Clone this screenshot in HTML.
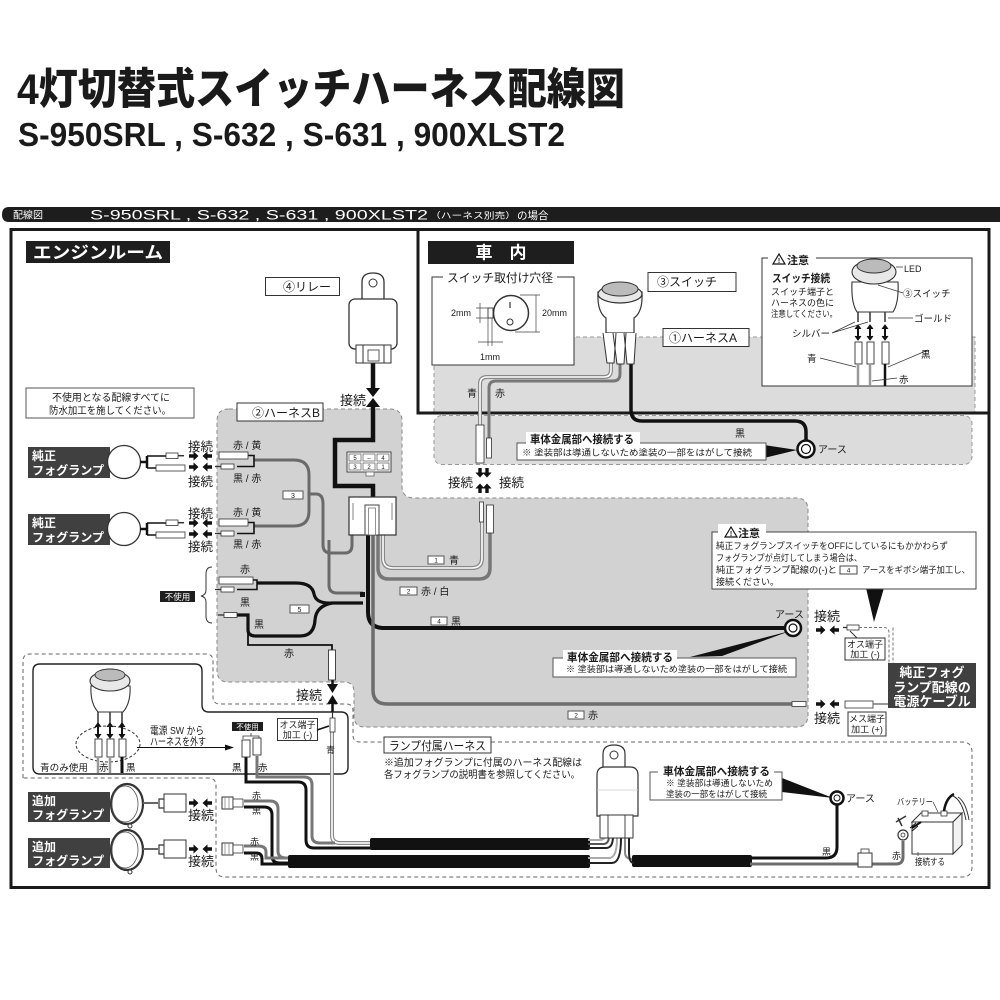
<!DOCTYPE html>
<html><head><meta charset="utf-8"><style>
html,body{margin:0;padding:0;background:#fff;}
svg{display:block;}
text{font-family:"Liberation Sans","Noto Sans CJK JP",sans-serif;fill:#1a1a1a;}
.w{fill:#fff;}
.b{font-weight:bold;}
</style></head><body>
<svg width="1000" height="1000" viewBox="0 0 1000 1000" xmlns="http://www.w3.org/2000/svg">
<defs>
<path id="ar" d="M0,-1.7 H4.5 V-4.6 L9.5,0 L4.5,4.6 V1.7 H0 Z" fill="#111"/>
</defs>
<rect width="1000" height="1000" fill="#fff"/>

<!-- Titles -->
<text x="17" y="104" font-size="43" font-weight="900" textLength="608" lengthAdjust="spacingAndGlyphs">4灯切替式スイッチハーネス配線図</text>
<text x="18" y="146" font-size="33" class="b" textLength="547" lengthAdjust="spacingAndGlyphs">S-950SRL , S-632 , S-631 , 900XLST2</text>

<!-- header bar -->
<path d="M9,207 H1000 V222 H9 Q2,222 2,214.5 Q2,207 9,207 Z" fill="#1d1d1d"/>
<text x="13" y="218.5" font-size="10" class="w">配線図</text>
<text x="90" y="219.5" font-size="13.5" class="w" textLength="338" lengthAdjust="spacingAndGlyphs">S-950SRL , S-632 , S-631 , 900XLST2</text>
<text x="430" y="218.5" font-size="8.5" class="w" textLength="86" lengthAdjust="spacingAndGlyphs">（ハーネス別売）</text>
<text x="517" y="219" font-size="10.5" class="w">の場合</text>

<!-- main frame -->
<rect x="11" y="229.5" width="978" height="658" fill="none" stroke="#1a1a1a" stroke-width="3"/>

<!-- 車内 gray regions -->
<rect x="434" y="337" width="541" height="75" fill="#dcdcdc"/>
<path d="M434,412 V337 H663 M746,337 H762 M972,337 H975 V412" fill="none" stroke="#999" stroke-width="1" stroke-dasharray="4,3"/>
<rect x="434" y="415.5" width="538" height="49" rx="8" fill="#dcdcdc" stroke="#999" stroke-width="1" stroke-dasharray="4,3"/>

<!-- harness B gray region -->
<path d="M229,409 H390 Q402,409 402,421 V486 Q402,498 414,498 H796 Q808,498 808,510 V715 Q808,727 796,727 H365 Q354,727 354,716 V692 Q354,682 344,682 H228 Q217,682 217,670 V421 Q217,409 229,409 Z" fill="#d2d2d2" stroke="#888" stroke-width="1" stroke-dasharray="4,3"/>

<!-- 車内 frame lines -->
<path d="M418,229 V413 H989" fill="none" stroke="#1a1a1a" stroke-width="3"/>

<!-- inset / lamp harness dashed outline -->
<path d="M23,778 V661 Q23,654 30,654 H206 Q213,654 213,661 V697 Q213,704 220,704 H346 Q353,704 353,711 V735 Q353,742 360,742 H384 M491,742 H962 Q972,742 972,752 V867 Q972,877 962,877 H225 Q216,877 216,868 V786 Q216,778 208,778 H23" fill="none" stroke="#666" stroke-width="1" stroke-dasharray="4,3"/>
<!-- inset solid -->
<path d="M40,664 H195 Q202,664 202,671 V705 Q202,712 209,712 H341 Q348,712 348,719 V767 Q348,774 341,774 H40 Q33,774 33,767 V671 Q33,664 40,664 Z" fill="#fff" stroke="#222" stroke-width="1.4"/>

<!-- ================= WIRES ================= -->
<path d="M373,363 V389" stroke="#111" stroke-width="4.5" fill="none"/>
<path d="M366,388 H380 L373,397 Z M366,407 H380 L373,398 Z" fill="#111"/>
<path d="M373,406 V440 H335 V486 H373 V497" stroke="#111" stroke-width="4.5" fill="none"/>

<path d="M254,460 H294 Q309,460 309,475 V511 Q309,526 294,526 H254" stroke="#6a6a6a" stroke-width="3" fill="none"/>
<path d="M309,494 H316 Q323,494 323,504 V545 Q323,553 331,553 H345 Q352,553 352,545 V534" stroke="#6a6a6a" stroke-width="3" fill="none"/>
<path d="M329,540 V585 Q329,593 337,593 H363" stroke="#6a6a6a" stroke-width="3" fill="none"/>
<path d="M248,455.5 H254 V466.5 H237 M248,522.5 H254 V533.5 H237 M253,580 H257 V589.5 H237" stroke="#111" stroke-width="1.6" fill="none"/>
<path d="M257,583 H296 Q312,583 314,594 Q316,604 332,603 H363" stroke="#111" stroke-width="3.2" fill="none"/>
<path d="M237,615 H248 V630 Q248,636 256,636 H300 Q314,636 315,620 Q316,606 332,603" stroke="#111" stroke-width="3.2" fill="none"/>
<path d="M248,630 V645 H332 V652" stroke="#111" stroke-width="1.8" fill="none"/>
<rect x="360" y="592" width="5" height="5" fill="#111"/>

<path d="M368,535 V612 Q368,628 384,628 H784" stroke="#111" stroke-width="4" fill="none"/>
<path d="M373,535 V690 Q373,704 387,704 H792" stroke="#6d6d6d" stroke-width="3.5" fill="none"/>
<path d="M378,535 V568 Q378,579 389,579 H479 Q490,579 490,568 V533" stroke="#777" stroke-width="3.5" fill="none"/>
<path d="M383,535 V558 Q383,568 393,568 H472 Q482,568 482,558 V522" stroke="#888" stroke-width="4" fill="none"/>
<path d="M383,535 V558 Q383,568 393,568 H472 Q482,568 482,558 V522" stroke="#fff" stroke-width="1.6" fill="none"/>

<path d="M611,363 V370 Q611,377 604,377 H487 Q480,377 480,384 V425" stroke="#888" stroke-width="4" fill="none"/>
<path d="M611,363 V370 Q611,377 604,377 H487 Q480,377 480,384 V425" stroke="#fff" stroke-width="1.6" fill="none"/>
<path d="M620,364 V374 Q620,381 613,381 H496 Q489,381 489,388 V438" stroke="#777" stroke-width="3" fill="none"/>
<path d="M631,364 V410 Q631,421 642,421 H795 Q806,421 806,432 V441" stroke="#111" stroke-width="3.5" fill="none"/>

<path d="M332,732 V835 Q332,843 340,843 H372" stroke="#888" stroke-width="4" fill="none"/>
<path d="M332,732 V835 Q332,843 340,843 H372" stroke="#fff" stroke-width="1.6" fill="none"/>
<path d="M246,756 V782 H298 Q306,782 306,790 V840 Q306,848 314,848 H372" stroke="#111" stroke-width="3" fill="none"/>
<path d="M257,756 V777 H304 Q312,777 312,785 V836 Q312,843 320,843 H335" stroke="#777" stroke-width="3" fill="none"/>
<path d="M244,801 H270 Q278,801 278,809 V851 Q278,858 286,858 H292" stroke="#777" stroke-width="3" fill="none"/>
<path d="M244,807 H264 Q272,807 272,815 V856 Q272,863 280,863 H292" stroke="#111" stroke-width="3" fill="none"/>
<path d="M244,846 H258 Q266,846 266,852 V858 H292" stroke="#777" stroke-width="3" fill="none"/>
<path d="M244,853 H256 Q262,853 262,859 V864 H292" stroke="#111" stroke-width="3" fill="none"/>
<rect x="370" y="838" width="220" height="12" rx="2" fill="#111"/>
<rect x="288" y="855" width="302" height="13" rx="2" fill="#111"/>
<rect x="632" y="855" width="120" height="12" rx="2" fill="#111"/>
<path d="M588,840 H600 Q605,840 605,834" stroke="#aaa" stroke-width="2" fill="none"/>
<path d="M588,844 H603 Q609,844 609,836" stroke="#555" stroke-width="2" fill="none"/>
<path d="M588,848 H606 Q613,848 613,836" stroke="#222" stroke-width="2" fill="none"/>
<path d="M588,858 H609 Q617,858 617,838" stroke="#aaa" stroke-width="2" fill="none"/>
<path d="M588,863 H612 Q621,863 621,838" stroke="#222" stroke-width="2" fill="none"/>
<path d="M625,838 V852 Q625,859 632,859" stroke="#888" stroke-width="2" fill="none"/>
<path d="M629,838 V852 Q629,863 634,863" stroke="#222" stroke-width="2" fill="none"/>
<path d="M750,858 H826 Q837,858 837,847 V805" stroke="#111" stroke-width="3" fill="none"/>
<path d="M750,864 H858 M872,864 H896 Q903,864 903,857 V841" stroke="#6d6d6d" stroke-width="3" fill="none"/>

<!-- ================= ENGINE ROOM COMPONENTS ================= -->
<rect x="26" y="241" width="144" height="22" fill="#1e1e1e"/>
<text x="33" y="258.5" font-size="17" class="w b" textLength="130" lengthAdjust="spacingAndGlyphs">エンジンルーム</text>

<rect x="265.5" y="277.5" width="74" height="18" fill="#fff" stroke="#333"/>
<text x="283" y="291" font-size="12">④リレー</text>

<path d="M362,302 V282 Q362,273 373,273 Q384,273 384,282 V302 Z" fill="#fff" stroke="#333" stroke-width="1.3"/>
<circle cx="373" cy="283" r="4" fill="#fff" stroke="#333"/>
<rect x="349" y="299" width="48" height="50" rx="6" fill="#fff" stroke="#333" stroke-width="1.3"/>
<rect x="356" y="345" width="35" height="18" fill="#fff" stroke="#333"/>
<path d="M363,345 V363 M384,345 V363" stroke="#333"/>
<rect x="368" y="350" width="11" height="11" fill="#fff" stroke="#333" stroke-width="0.8"/>
<text x="340" y="405" font-size="13">接続</text>

<rect x="26" y="388" width="168" height="30" fill="#fff" stroke="#555"/>
<text x="52" y="401" font-size="10" textLength="118" lengthAdjust="spacingAndGlyphs">不使用となる配線すべてに</text>
<text x="49" y="414" font-size="10" textLength="122" lengthAdjust="spacingAndGlyphs">防水加工を施してください。</text>

<rect x="237" y="403" width="86" height="18" fill="#fff" stroke="#333"/>
<text x="252" y="417" font-size="12">②ハーネスB</text>

<rect x="347" y="452" width="44" height="20" fill="#fff" stroke="#444"/>
<g fill="#fff" stroke="#555" stroke-width="0.7">
<rect x="349" y="454" width="12" height="7"/><rect x="363" y="454" width="12" height="7"/><rect x="377" y="454" width="12" height="7"/>
<rect x="349" y="463" width="12" height="7"/><rect x="363" y="463" width="12" height="7"/><rect x="377" y="463" width="12" height="7"/>
</g>
<rect x="366" y="472" width="8" height="4" fill="#fff" stroke="#555" stroke-width="0.7"/>
<g font-size="6" text-anchor="middle"><text x="355" y="460">5</text><text x="369" y="460">–</text><text x="383" y="460">4</text><text x="355" y="469">3</text><text x="369" y="469">2</text><text x="383" y="469">1</text></g>

<rect x="349" y="497" width="47" height="38" fill="#fff" stroke="#333" stroke-width="1.2"/>
<rect x="365" y="505" width="14" height="30" fill="#fff" stroke="#444"/>
<rect x="368.5" y="508" width="7" height="27" fill="#fff" stroke="#666" stroke-width="0.7"/>
<path d="M353,503 V520 M392,503 V520" stroke="#666" stroke-width="0.8"/>

<!-- 純正 lamp 1 -->
<rect x="28" y="447" width="82" height="31" fill="#404040"/>
<text x="32" y="460" font-size="12" class="w b">純正</text>
<text x="32" y="474.5" font-size="12" class="w b" textLength="72" lengthAdjust="spacingAndGlyphs">フォグランプ</text>
<circle cx="124" cy="462" r="16.5" fill="#fff" stroke="#333" stroke-width="1.3"/>
<path d="M140,462 H147 M147,456 V468" stroke="#111" stroke-width="2.5"/>
<path d="M147,456 H166 M147,468 H156" stroke="#111" stroke-width="1.5"/>
<rect x="166" y="453" width="12" height="5.5" fill="#fff" stroke="#333" stroke-width="0.8"/>
<path d="M178,455.7 H184" stroke="#333" stroke-width="1.5"/>
<rect x="156" y="465" width="29" height="6" fill="#fff" stroke="#333" stroke-width="0.8"/>
<use href="#ar" transform="translate(189,456)"/><use href="#ar" transform="translate(212,456) scale(-1,1)"/>
<use href="#ar" transform="translate(189,467)"/><use href="#ar" transform="translate(212,467) scale(-1,1)"/>
<text x="188" y="451" font-size="12.5">接続</text>
<text x="188" y="486" font-size="12.5">接続</text>
<rect x="219" y="452" width="29" height="7" fill="#fff" stroke="#333" stroke-width="0.8"/>
<rect x="221" y="464" width="13" height="5" fill="#fff" stroke="#333" stroke-width="0.8"/>
<path d="M215,466.5 H221" stroke="#333" stroke-width="1.3"/>
<text x="233" y="449" font-size="10">赤 / 黄</text>
<text x="233" y="482" font-size="10">黒 / 赤</text>

<!-- 純正 lamp 2 -->
<rect x="28" y="514" width="82" height="31" fill="#404040"/>
<text x="32" y="527" font-size="12" class="w b">純正</text>
<text x="32" y="541.5" font-size="12" class="w b" textLength="72" lengthAdjust="spacingAndGlyphs">フォグランプ</text>
<circle cx="124" cy="529" r="16.5" fill="#fff" stroke="#333" stroke-width="1.3"/>
<path d="M140,529 H147 M147,523 V535" stroke="#111" stroke-width="2.5"/>
<path d="M147,523 H166 M147,535 H156" stroke="#111" stroke-width="1.5"/>
<rect x="166" y="520" width="12" height="5.5" fill="#fff" stroke="#333" stroke-width="0.8"/>
<path d="M178,522.7 H184" stroke="#333" stroke-width="1.5"/>
<rect x="156" y="532" width="29" height="6" fill="#fff" stroke="#333" stroke-width="0.8"/>
<use href="#ar" transform="translate(189,523)"/><use href="#ar" transform="translate(212,523) scale(-1,1)"/>
<use href="#ar" transform="translate(189,534)"/><use href="#ar" transform="translate(212,534) scale(-1,1)"/>
<text x="188" y="518" font-size="12.5">接続</text>
<text x="188" y="551" font-size="12.5">接続</text>
<rect x="219" y="519" width="29" height="7" fill="#fff" stroke="#333" stroke-width="0.8"/>
<rect x="221" y="531" width="13" height="5" fill="#fff" stroke="#333" stroke-width="0.8"/>
<path d="M215,533.5 H221" stroke="#333" stroke-width="1.3"/>
<text x="233" y="516" font-size="10">赤 / 黄</text>
<text x="233" y="548" font-size="10">黒 / 赤</text>

<rect x="283" y="491" width="20" height="8" fill="#fff" stroke="#555"/>
<text x="293" y="498" font-size="7" text-anchor="middle">3</text>

<!-- 不使用 group -->
<rect x="160" y="591" width="35" height="11" fill="#1e1e1e"/>
<text x="177.5" y="600" font-size="8.5" class="w" text-anchor="middle">不使用</text>
<path d="M212,567 Q206,567 206,574 V590 Q206,595 201,596 Q206,597 206,602 V616 Q206,623 212,623" fill="none" stroke="#333" stroke-width="1"/>
<text x="240" y="573" font-size="10">赤</text>
<rect x="219" y="577" width="34" height="7" fill="#fff" stroke="#333" stroke-width="0.8"/>
<rect x="221" y="587" width="13" height="5" fill="#fff" stroke="#333" stroke-width="0.8"/>
<path d="M215,589.5 H221" stroke="#333" stroke-width="1.3"/>
<text x="240" y="606" font-size="10">黒</text>
<rect x="224" y="612.5" width="13" height="5" fill="#fff" stroke="#333" stroke-width="0.8"/>
<path d="M218,615 H224" stroke="#333" stroke-width="1.3"/>
<text x="254" y="628" font-size="10">黒</text>
<text x="284" y="657" font-size="10">赤</text>
<rect x="290" y="605" width="19" height="8" fill="#fff" stroke="#555"/>
<text x="299.5" y="612" font-size="7" text-anchor="middle">5</text>
<rect x="328.5" y="650" width="7" height="30" fill="#fff" stroke="#333" stroke-width="0.9"/>

<!-- wire labels -->
<rect x="428" y="556" width="16" height="8" fill="#fff" stroke="#555"/><text x="436" y="562.5" font-size="6.5" text-anchor="middle">1</text>
<text x="449" y="564" font-size="10">青</text>
<rect x="400" y="587" width="17" height="8" fill="#fff" stroke="#555"/><text x="408.5" y="593.5" font-size="6.5" text-anchor="middle">2</text>
<text x="421" y="595" font-size="10">赤 / 白</text>
<rect x="431" y="617" width="16" height="8" fill="#fff" stroke="#555"/><text x="439" y="623.5" font-size="6.5" text-anchor="middle">4</text>
<text x="451" y="625" font-size="10">黒</text>
<rect x="568" y="711" width="16" height="8" fill="#fff" stroke="#555"/><text x="576" y="717.5" font-size="6.5" text-anchor="middle">2</text>
<text x="588" y="719" font-size="10">赤</text>

<rect x="479.5" y="502" width="4" height="20" fill="#fff" stroke="#333" stroke-width="0.8"/>
<rect x="486.5" y="505" width="7" height="28" fill="#fff" stroke="#333" stroke-width="0.8"/>

<!-- middle ground -->
<path d="M690,657 L722,656 L790,631 Z" fill="#111"/>
<rect x="553" y="658" width="243" height="19" fill="#fff" stroke="#555"/>
<rect x="563" y="650" width="114" height="12" fill="#fff"/>
<text x="567" y="661" font-size="11" class="b" textLength="106" lengthAdjust="spacingAndGlyphs">車体金属部へ接続する</text>
<text x="566" y="672" font-size="8.5" textLength="221" lengthAdjust="spacingAndGlyphs">※ 塗装部は導通しないため塗装の一部をはがして接続</text>
<circle cx="793" cy="628" r="8" fill="#fff" stroke="#111" stroke-width="2.5"/>
<circle cx="793" cy="628" r="4" fill="#fff" stroke="#111" stroke-width="1.2"/>
<text x="775" y="618" font-size="10">アース</text>
<rect x="792" y="701.5" width="14" height="5" fill="#fff" stroke="#333" stroke-width="0.8"/>

<!-- right side connections -->
<text x="814" y="621" font-size="13">接続</text>
<use href="#ar" transform="translate(816,630)"/><use href="#ar" transform="translate(839,630) scale(-1,1)"/>
<rect x="847" y="625" width="12" height="5" fill="#fff" stroke="#333" stroke-width="0.8"/>
<path d="M843,627.5 H847" stroke="#333" stroke-width="1.3"/>
<path d="M859,627.5 H884 Q889,627.5 889,633 V663" fill="none" stroke="#777" stroke-width="1" stroke-dasharray="3,2"/>
<path d="M893,627.5 V663" fill="none" stroke="#777" stroke-width="1" stroke-dasharray="3,2"/>
<path d="M850,631 L860,641" stroke="#333" stroke-width="1"/>
<rect x="845" y="638" width="40" height="22" fill="#fff" stroke="#333"/>
<text x="865" y="647.5" font-size="9" text-anchor="middle">オス端子</text>
<text x="865" y="657.5" font-size="9" text-anchor="middle">加工 (-)</text>
<rect x="888" y="663" width="88" height="45" fill="#404040"/>
<text x="932" y="677" font-size="13" class="w b" text-anchor="middle">純正フォグ</text>
<text x="932" y="692" font-size="13" class="w b" text-anchor="middle">ランプ配線の</text>
<text x="932" y="706" font-size="13" class="w b" text-anchor="middle">電源ケーブル</text>
<use href="#ar" transform="translate(816,704)"/><use href="#ar" transform="translate(839,704) scale(-1,1)"/>
<text x="814" y="723" font-size="13">接続</text>
<rect x="845" y="701" width="28" height="7" fill="#fff" stroke="#333" stroke-width="0.8"/>
<path d="M873,704 H888" stroke="#777" stroke-width="1.5"/>
<rect x="848" y="712" width="38" height="24" fill="#fff" stroke="#333"/>
<text x="867" y="722" font-size="9" text-anchor="middle">メス端子</text>
<text x="867" y="732.5" font-size="9" text-anchor="middle">加工 (+)</text>

<!-- 注意 middle -->
<path d="M866,588 L884,588 L874,622 Z" fill="#111"/>
<rect x="712" y="532" width="264" height="57" fill="#fff" stroke="#444"/>
<rect x="718" y="524" width="48" height="12" fill="#fff"/>
<path d="M725,537 L731,527 L737,537 Z" fill="none" stroke="#111" stroke-width="1.2"/>
<text x="731" y="536" font-size="7" text-anchor="middle" class="b">!</text>
<text x="738" y="537" font-size="11" class="b">注意</text>
<text x="716" y="549" font-size="9" textLength="232" lengthAdjust="spacingAndGlyphs">純正フォグランプスイッチをOFFにしているにもかかわらず</text>
<text x="716" y="561" font-size="9" textLength="146" lengthAdjust="spacingAndGlyphs">フォグランプが点灯してしまう場合は、</text>
<text x="716" y="573" font-size="9" textLength="121" lengthAdjust="spacingAndGlyphs">純正フォグランプ配線の(-)と</text>
<rect x="840" y="566" width="17" height="8" fill="#fff" stroke="#444"/><text x="848.5" y="572.5" font-size="6.5" text-anchor="middle">4</text>
<text x="862" y="573" font-size="9" textLength="108" lengthAdjust="spacingAndGlyphs">アースをギボシ端子加工し、</text>
<text x="716" y="585" font-size="9">接続ください。</text>

<!-- ================= CAR INTERIOR ================= -->
<rect x="428" y="241" width="146" height="23" fill="#1e1e1e"/>
<text x="501" y="258.5" font-size="17" class="w b" text-anchor="middle">車　内</text>

<rect x="432" y="277" width="142" height="88" fill="#fff" stroke="#333"/>
<rect x="443" y="270" width="114" height="12" fill="#fff"/>
<text x="447" y="282" font-size="12" textLength="106" lengthAdjust="spacingAndGlyphs">スイッチ取付け穴径</text>
<circle cx="511" cy="313" r="17.5" fill="#fff" stroke="#333" stroke-width="1.5"/>
<path d="M510,302 V308" stroke="#333" stroke-width="1.2"/>
<circle cx="510" cy="322" r="3" fill="#fff" stroke="#333"/>
<rect x="488" y="308" width="5" height="10" fill="#fff" stroke="#333" stroke-width="0.9"/>
<path d="M480,303 V323 M476,308 H488 M476,318 H488 M536,295 V332 M520,295 H540 M515,332 H540 M488,318 V346 M492,318 V346 M478,342 H503" stroke="#444" stroke-width="0.7" fill="none"/>
<text x="451" y="316" font-size="9">2mm</text>
<text x="542" y="316" font-size="9">20mm</text>
<text x="480" y="360" font-size="9">1mm</text>

<path d="M598,292 Q597,312 606,318 V333 H634 V318 Q643,312 642,292 Z" fill="#fff" stroke="#333" stroke-width="1.2"/>
<ellipse cx="620" cy="294" rx="22" ry="9" fill="#e8e8e8" stroke="#333" stroke-width="1.2"/>
<ellipse cx="620" cy="289" rx="18" ry="7" fill="#bbb" stroke="#333" stroke-width="1"/>
<path d="M603,333 L607,363 H614 L616,333 M613,333 L617,364 H624 L626,333 M624,333 L627,364 H634 L636,333" fill="#fff" stroke="#333" stroke-width="1"/>
<rect x="648" y="272.5" width="88" height="19" fill="#fff" stroke="#333"/>
<text x="657" y="286" font-size="12">③スイッチ</text>
<rect x="663" y="328.5" width="86" height="18" fill="#fff" stroke="#333"/>
<text x="669" y="342" font-size="12">①ハーネスA</text>
<text x="467" y="397" font-size="10">青</text>
<text x="495" y="397" font-size="10">赤</text>
<text x="735" y="437" font-size="10">黒</text>

<rect x="476" y="425" width="8" height="38" fill="#fff" stroke="#333" stroke-width="0.8"/>
<rect x="486.5" y="438" width="5" height="20" fill="#fff" stroke="#333" stroke-width="0.8"/>
<use href="#ar" transform="translate(480,468) rotate(90)"/><use href="#ar" transform="translate(487,468) rotate(90)"/>
<use href="#ar" transform="translate(480,493) rotate(-90)"/><use href="#ar" transform="translate(487,493) rotate(-90)"/>
<text x="448" y="487" font-size="12.5">接続</text>
<text x="499" y="487" font-size="12.5">接続</text>

<path d="M764,445 L764,458 L797,450 Z" fill="#111"/>
<rect x="517" y="443" width="249" height="17" fill="#fff" stroke="#555"/>
<rect x="526" y="432" width="114" height="12" fill="#fff"/>
<text x="530" y="443" font-size="11" class="b" textLength="104" lengthAdjust="spacingAndGlyphs">車体金属部へ接続する</text>
<text x="522" y="455.5" font-size="8.5" textLength="230" lengthAdjust="spacingAndGlyphs">※ 塗装部は導通しないため塗装の一部をはがして接続</text>
<circle cx="806" cy="449" r="8.5" fill="#fff" stroke="#111" stroke-width="2.5"/>
<circle cx="806" cy="449" r="4.5" fill="#fff" stroke="#111" stroke-width="1.2"/>
<text x="818" y="453" font-size="10">アース</text>

<!-- 注意 top right -->
<rect x="762" y="258" width="210" height="128" fill="#fff" stroke="#333"/>
<rect x="768" y="251" width="48" height="13" fill="#fff"/>
<path d="M773,264 L779,254 L785,264 Z" fill="none" stroke="#111" stroke-width="1.2"/>
<text x="779" y="263" font-size="7" text-anchor="middle" class="b">!</text>
<text x="787" y="264" font-size="11" class="b">注意</text>
<text x="772" y="282" font-size="11" class="b" textLength="58" lengthAdjust="spacingAndGlyphs">スイッチ接続</text>
<text x="771" y="295" font-size="9">スイッチ端子と</text>
<text x="771" y="306" font-size="9">ハーネスの色に</text>
<text x="771" y="317" font-size="9" textLength="66" lengthAdjust="spacingAndGlyphs">注意してください。</text>
<path d="M852,282 Q851,303 857,312 H893 Q899,303 898,282 Z" fill="#fff" stroke="#333" stroke-width="1.1"/>
<ellipse cx="874" cy="272" rx="22" ry="12" fill="#e8e8e8" stroke="#333" stroke-width="1.1"/>
<ellipse cx="874" cy="266" rx="17" ry="7" fill="#bbb" stroke="#333" stroke-width="0.9"/>
<path d="M858,312 V322 M870,312 V322 M885,312 V322" stroke="#333" stroke-width="1.5"/>
<path d="M858,326 V339 M870,326 V339 M885,326 V339" stroke="#111" stroke-width="2"/>
<path d="M855,329 L858,325 L861,329 M855,336 L858,340 L861,336 M867,329 L870,325 L873,329 M867,336 L870,340 L873,336 M882,329 L885,325 L888,329 M882,336 L885,340 L888,336" fill="#111" stroke="#111" stroke-width="1"/>
<rect x="855" y="342" width="7" height="22" fill="#fff" stroke="#333" stroke-width="0.9"/>
<rect x="867" y="342" width="7" height="22" fill="#fff" stroke="#333" stroke-width="0.9"/>
<rect x="882" y="342" width="7" height="22" fill="#fff" stroke="#333" stroke-width="0.9"/>
<path d="M858,364 V386 M870,364 V386" stroke="#999" stroke-width="2.5"/>
<path d="M885,364 V386" stroke="#111" stroke-width="2.5"/>
<path d="M896,267 H903 M878,285 L903,293 M888,318 L913,318 M832,333 L855,322 M832,333 L868,322 M820,358 L856,367 M928,350 L888,367 M897,378 L872,381" stroke="#333" stroke-width="0.7" fill="none"/>
<text x="904" y="272" font-size="9">LED</text>
<text x="903" y="297" font-size="9.5">③スイッチ</text>
<text x="914" y="322" font-size="9.5">ゴールド</text>
<text x="792" y="337" font-size="9.5">シルバー</text>
<text x="807" y="362" font-size="9.5">青</text>
<text x="921" y="358" font-size="9.5">黒</text>
<text x="899" y="383" font-size="9.5">赤</text>

<!-- ================= INSET (lower-left) ================= -->
<path d="M91,686 Q90,703 98,712 H123 Q131,703 130,686 Z" fill="#fff" stroke="#333" stroke-width="1.1"/>
<ellipse cx="110" cy="681" rx="20" ry="10" fill="#e8e8e8" stroke="#333" stroke-width="1.1"/>
<ellipse cx="110" cy="675" rx="15" ry="6" fill="#bbb" stroke="#333" stroke-width="0.9"/>
<path d="M98,712 V724 M110,712 V724 M122,712 V724" stroke="#333" stroke-width="1.5"/>
<path d="M98,724 V737 M110,724 V737 M122,724 V737" stroke="#111" stroke-width="2"/>
<path d="M95,727 L98,723 L101,727 M95,734 L98,738 L101,734 M107,727 L110,723 L113,727 M107,734 L110,738 L113,734 M119,727 L122,723 L125,727 M119,734 L122,738 L125,734" fill="#111" stroke="#111"/>
<ellipse cx="108" cy="744" rx="32" ry="18" fill="none" stroke="#333" stroke-dasharray="3,2"/>
<rect x="95" y="739" width="7" height="18" fill="#fff" stroke="#333" stroke-width="0.9"/>
<rect x="107" y="739" width="7" height="18" fill="#fff" stroke="#333" stroke-width="0.9"/>
<rect x="119" y="739" width="7" height="18" fill="#fff" stroke="#333" stroke-width="0.9"/>
<path d="M98,757 V773 M110,757 V773" stroke="#999" stroke-width="2.5"/>
<path d="M122,757 V773" stroke="#111" stroke-width="3"/>
<text x="40" y="771" font-size="9.5" textLength="48" lengthAdjust="spacingAndGlyphs">青のみ使用</text>
<text x="99" y="771" font-size="9.5" fill="#fff">赤</text>
<text x="126" y="771" font-size="9.5">黒</text>
<text x="150" y="734" font-size="10.5" textLength="54" lengthAdjust="spacingAndGlyphs">電源 SW から</text>
<text x="150" y="745" font-size="10.5" textLength="56" lengthAdjust="spacingAndGlyphs">ハーネスを外す</text>
<path d="M137,747.5 H226" stroke="#111" stroke-width="1"/>
<path d="M225,744.5 L234,747.5 L225,750.5 Z" fill="#111"/>
<rect x="232" y="722" width="31" height="9" fill="#1e1e1e"/>
<text x="247.5" y="729.5" font-size="7.5" class="w" text-anchor="middle">不使用</text>
<path d="M243,739 V736 H259 V739 M251,736 V733" fill="none" stroke="#333" stroke-width="0.8"/>
<rect x="242" y="740" width="8" height="17" fill="#fff" stroke="#333" stroke-width="0.9"/>
<rect x="253" y="738" width="8" height="17" fill="#fff" stroke="#333" stroke-width="0.9"/>
<text x="232" y="771" font-size="9.5">黒</text>
<text x="258" y="771" font-size="9.5">赤</text>
<rect x="277.5" y="718.5" width="40" height="22" fill="#fff" stroke="#333"/>
<text x="297.5" y="728" font-size="9" text-anchor="middle">オス端子</text>
<text x="297.5" y="738" font-size="9" text-anchor="middle">加工 (-)</text>
<path d="M317,730 L329,726" stroke="#111" stroke-width="1.5"/>
<rect x="330" y="718" width="5" height="14" fill="#fff" stroke="#333" stroke-width="0.8"/>
<path d="M332.5,712 V718" stroke="#333" stroke-width="1.2"/>
<text x="326" y="753" font-size="9">青</text>
<text x="296" y="700" font-size="13">接続</text>
<path d="M327,684 H338 L332.5,693 Z M327,704 H338 L332.5,695 Z" fill="#111"/>
<path d="M332.5,680 V684 M332.5,704 V712" stroke="#111" stroke-width="2.5"/>

<!-- 追加 fog lamps -->
<rect x="28" y="792" width="82" height="30" fill="#404040"/>
<text x="32" y="805" font-size="12" class="w b">追加</text>
<text x="32" y="819" font-size="12" class="w b" textLength="72" lengthAdjust="spacingAndGlyphs">フォグランプ</text>
<ellipse cx="127" cy="804" rx="16" ry="20" fill="#fff" stroke="#333" stroke-width="2.2"/>
<ellipse cx="125" cy="804" rx="13" ry="18" fill="none" stroke="#555" stroke-width="0.8"/>
<circle cx="130" cy="826" r="2" fill="#fff" stroke="#333"/>
<path d="M143,803 H158" stroke="#666" stroke-width="2"/>
<path d="M164,799 H159 V808 H164" fill="none" stroke="#333" stroke-width="1.2"/>
<rect x="164" y="794" width="22" height="18" fill="#fff" stroke="#333"/>
<use href="#ar" transform="translate(189,803)"/><use href="#ar" transform="translate(212,803) scale(-1,1)"/>
<text x="188" y="820" font-size="13">接続</text>
<rect x="222" y="797" width="11" height="12" fill="#fff" stroke="#333"/>
<rect x="233" y="799" width="10" height="8" fill="#fff" stroke="#333" stroke-width="0.8"/>
<path d="M225,797 V809 M229,797 V809" stroke="#888" stroke-width="0.8"/>
<text x="252" y="799" font-size="9">赤</text>
<text x="252" y="814" font-size="9">黒</text>

<rect x="28" y="838" width="82" height="30" fill="#404040"/>
<text x="32" y="851" font-size="12" class="w b">追加</text>
<text x="32" y="865" font-size="12" class="w b" textLength="72" lengthAdjust="spacingAndGlyphs">フォグランプ</text>
<ellipse cx="127" cy="850" rx="16" ry="20" fill="#fff" stroke="#333" stroke-width="2.2"/>
<ellipse cx="125" cy="850" rx="13" ry="18" fill="none" stroke="#555" stroke-width="0.8"/>
<circle cx="130" cy="872" r="2" fill="#fff" stroke="#333"/>
<path d="M143,849 H158" stroke="#666" stroke-width="2"/>
<path d="M164,845 H159 V854 H164" fill="none" stroke="#333" stroke-width="1.2"/>
<rect x="164" y="840" width="22" height="18" fill="#fff" stroke="#333"/>
<use href="#ar" transform="translate(189,849)"/><use href="#ar" transform="translate(212,849) scale(-1,1)"/>
<text x="188" y="866" font-size="13">接続</text>
<rect x="222" y="843" width="11" height="12" fill="#fff" stroke="#333"/>
<rect x="233" y="845" width="10" height="8" fill="#fff" stroke="#333" stroke-width="0.8"/>
<path d="M225,843 V855 M229,843 V855" stroke="#888" stroke-width="0.8"/>
<text x="250" y="845" font-size="9">赤</text>
<text x="250" y="860" font-size="9">黒</text>

<!-- lamp harness box -->
<rect x="384" y="737" width="107" height="16" fill="#fff" stroke="#333"/>
<text x="389" y="750" font-size="12" textLength="97" lengthAdjust="spacingAndGlyphs">ランプ付属ハーネス</text>
<text x="384" y="766" font-size="10" textLength="198" lengthAdjust="spacingAndGlyphs">※追加フォグランプに付属のハーネス配線は</text>
<text x="384" y="778" font-size="10" textLength="196" lengthAdjust="spacingAndGlyphs">各フォグランプの説明書を参照してください。</text>

<!-- relay2 -->
<path d="M603,770 V754 Q603,745 614,745 Q625,745 625,754 V770 Z" fill="#fff" stroke="#333" stroke-width="1.2"/>
<circle cx="614" cy="755" r="4" fill="#fff" stroke="#333"/>
<path d="M597,775 Q597,767 605,767 H630 Q638,767 638,775 V816 H597 Z" fill="#fff" stroke="#333" stroke-width="1.2"/>
<path d="M597,790 H638" stroke="#ccc" stroke-width="0.8"/>
<rect x="600" y="815" width="33" height="23" fill="#fff" stroke="#333"/>
<path d="M608,815 V838 M625,815 V838" stroke="#333" stroke-width="0.9"/>

<!-- bottom ground callout -->
<path d="M782,778 L782,792 L833,798 Z" fill="#111"/>
<rect x="650" y="772" width="132" height="28" fill="#fff" stroke="#555"/>
<rect x="658" y="764" width="116" height="12" fill="#fff"/>
<text x="663" y="775" font-size="11" class="b" textLength="107" lengthAdjust="spacingAndGlyphs">車体金属部へ接続する</text>
<text x="666" y="786" font-size="8.5" textLength="107" lengthAdjust="spacingAndGlyphs">※ 塗装部は導通しないため</text>
<text x="666" y="797" font-size="8.5" textLength="101" lengthAdjust="spacingAndGlyphs">塗装の一部をはがして接続</text>
<circle cx="837" cy="798" r="6.5" fill="#fff" stroke="#111" stroke-width="2.5"/>
<circle cx="837" cy="798" r="3" fill="#fff" stroke="#111" stroke-width="1"/>
<text x="846" y="802" font-size="10">アース</text>
<text x="822" y="855" font-size="9">黒</text>
<rect x="858" y="853" width="14" height="14" fill="#fff" stroke="#333"/>
<rect x="861" y="849" width="8" height="4" fill="#fff" stroke="#333" stroke-width="0.8"/>
<text x="892" y="859" font-size="9">赤</text>

<!-- battery -->
<circle cx="903" cy="835" r="5" fill="#fff" stroke="#333" stroke-width="1.2"/>
<circle cx="903" cy="835" r="2" fill="#fff" stroke="#333" stroke-width="0.8"/>
<path d="M896,822 L906,816 M898,818 L902,826" stroke="#333" stroke-width="1.5"/>
<path d="M912,822 L921,813 H962 L953,822 Z" fill="#fff" stroke="#333" stroke-width="1"/>
<path d="M953,822 L962,813 V845 L953,854 Z" fill="#f2f2f2" stroke="#333" stroke-width="1"/>
<rect x="912" y="822" width="41" height="32" fill="#fff" stroke="#333" stroke-width="1"/>
<rect x="922" y="811" width="6" height="5" fill="#fff" stroke="#333" stroke-width="0.8"/>
<rect x="941" y="811" width="6" height="5" fill="#fff" stroke="#333" stroke-width="0.8"/>
<path d="M944,811 Q946,798 954,794" stroke="#111" stroke-width="2.5" fill="none"/>
<path d="M953,796 Q962,800 966,820" stroke="#333" stroke-width="1" fill="none"/>
<path d="M958,797 Q966,802 969,820" stroke="#333" stroke-width="1" fill="none"/>
<path d="M921,822 L912,828" stroke="#111" stroke-width="2"/>
<path d="M910,828 L916,823 M912,831 L918,826" stroke="#111" stroke-width="1"/>
<text x="897" y="805" font-size="9" textLength="36" lengthAdjust="spacingAndGlyphs">バッテリー</text>
<path d="M933,802 L938,812" stroke="#333" stroke-width="0.7"/>
<path d="M918,852 V856" stroke="#333" stroke-width="0.7"/>
<text x="915" y="865" font-size="9" textLength="30" lengthAdjust="spacingAndGlyphs">接続する</text>
</svg>
</body></html>
